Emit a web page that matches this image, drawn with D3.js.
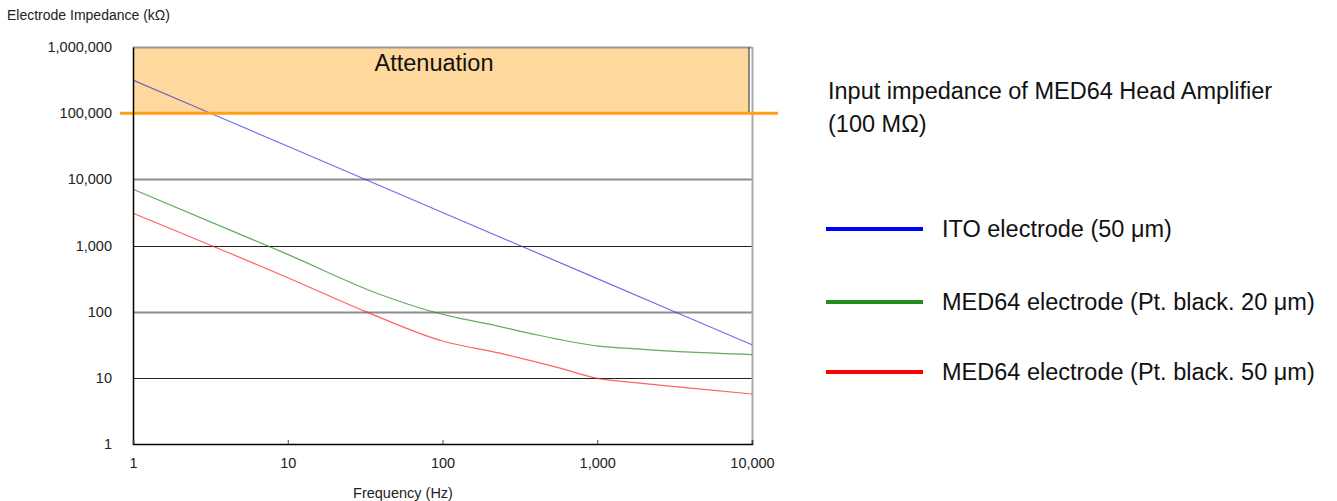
<!DOCTYPE html>
<html>
<head>
<meta charset="utf-8">
<script src="https://cdn.jsdelivr.net/npm/d3@7"></script>
<style>
  body { margin: 0; background: #fff; }
  text { font-family: "Liberation Sans", Arial, sans-serif; }
</style>
</head>
<body>
<div id="chart"></div>
<script>
// data (impedance in kOhm)
const freqTicks = [1, 10, 100, 1000, 10000];
const impTicks = [1, 10, 100, 1000, 10000, 100000, 1000000];

const itoFreq = [1, 10, 100, 1000, 10000];
const itoImp = [316000, 31600, 3160, 316, 31.6];

const pt20Freq = [1, 10, 40, 80, 130, 200, 367, 1000, 1900, 4000, 10000];
const pt20Imp = [7080, 735, 180, 105, 79, 65, 47, 30.4, 27.1, 24.4, 22.5];

const pt50Freq = [1, 10, 32, 100, 235, 575, 950, 1900, 4000, 10000];
const pt50Imp = [3076, 326, 100, 36, 23.6, 14, 10.1, 8.3, 7.0, 5.7];

const ampImp = 100000;
const seriesNames = ["ITO electrode (50 μm)", "MED64 electrode (Pt. black. 20 μm)", "MED64 electrode (Pt. black. 50 μm)"];

function drawChart() {
    let dimensions = {
        width: 1337,
        height: 501,
        margin: { top: 47, right: 585, bottom: 57, left: 133 }
    };
    dimensions.boundW = dimensions.width - dimensions.margin.left - dimensions.margin.right;
    dimensions.boundH = dimensions.height - dimensions.margin.top - dimensions.margin.bottom;

    let svg = d3.select('#chart').append('svg')
        .attr('width', dimensions.width)
        .attr('height', dimensions.height);

    let bounds = svg.append('g')
        .attr('transform', `translate(${dimensions.margin.left},${dimensions.margin.top})`);

    let xScale = d3.scaleLog()
        .domain([1, 10000])
        .range([0, dimensions.boundW]);

    let yScale = d3.scaleLog()
        .domain([1, 1000000])
        .range([dimensions.boundH, 0]);

    // attenuation zone
    bounds.append('rect')
        .attr('x', 0)
        .attr('y', 0)
        .attr('width', dimensions.boundW - 3)
        .attr('height', yScale(ampImp))
        .attr('fill', '#fed89c');
    bounds.append('line')
        .attr('x1', 0).attr('x2', dimensions.boundW)
        .attr('y1', 0.5).attr('y2', 0.5)
        .attr('stroke', '#999').attr('stroke-width', 2);
    bounds.append('line')
        .attr('x1', dimensions.boundW - 3).attr('x2', dimensions.boundW - 3)
        .attr('y1', 0).attr('y2', yScale(ampImp))
        .attr('stroke', '#666').attr('stroke-width', 1.5);

    bounds.append('text')
        .attr('x', 434 - dimensions.margin.left)
        .attr('y', 24)
        .attr('text-anchor', 'middle')
        .style('font-size', '23.5px')
        .style('fill', '#111')
        .text('Attenuation');

    // grid lines
    let grid = [10, 100, 1000, 10000];
    bounds.selectAll('.grid')
        .data(grid)
        .join('line')
        .attr('x1', 0).attr('x2', dimensions.boundW)
        .attr('y1', d => Math.round(yScale(d)) + 0.5)
        .attr('y2', d => Math.round(yScale(d)) + 0.5)
        .attr('stroke', d => (d === 100 || d === 10000) ? '#8c8c8c' : '#222')
        .attr('stroke-width', d => (d === 100 || d === 10000) ? 2 : 1);

    // right frame
    bounds.append('line')
        .attr('x1', dimensions.boundW + 0.5).attr('x2', dimensions.boundW + 0.5)
        .attr('y1', 0).attr('y2', dimensions.boundH)
        .attr('stroke', '#aaa').attr('stroke-width', 2);

    // series
    let series = [
        { f: itoFreq, z: itoImp, color: '#3333dd' },
        { f: pt20Freq, z: pt20Imp, color: '#1e8a1e' },
        { f: pt50Freq, z: pt50Imp, color: '#ff2020' }
    ];

    let lineGenerator = d3.line()
        .curve(d3.curveMonotoneX)
        .x(d => xScale(d[0]))
        .y(d => yScale(d[1]));

    series.forEach(s => {
        bounds.append('path')
            .attr('d', lineGenerator(s.f.map((f, i) => [f, s.z[i]])))
            .attr('fill', 'none')
            .attr('stroke', s.color)
            .attr('stroke-opacity', 0.7)
            .attr('stroke-width', 1.2);
    });

    // amplifier input impedance line
    bounds.append('line')
        .attr('x1', -13).attr('x2', dimensions.boundW + 26)
        .attr('y1', yScale(ampImp)).attr('y2', yScale(ampImp))
        .attr('stroke', '#ffa010')
        .attr('stroke-width', 3);

    // axes
    let yAxisGenerator = d3.axisLeft(yScale)
        .tickValues(impTicks)
        .tickSize(0)
        .tickPadding(21)
        .tickFormat(d3.format(','));

    let yAxis = bounds.append('g').call(yAxisGenerator);
    yAxis.select('.domain').attr('stroke', '#000').attr('stroke-width', 1.5);
    yAxis.selectAll('text')
        .style('font-size', '14.5px')
        .style('font-family', '"Liberation Sans", Arial, sans-serif')
        .style('fill', '#222');

    let xAxisGenerator = d3.axisBottom(xScale)
        .tickValues(freqTicks)
        .tickSize(-4)
        .tickPadding(14)
        .tickFormat(d3.format(','));

    let xAxis = bounds.append('g')
        .attr('transform', `translate(0,${dimensions.boundH})`)
        .call(xAxisGenerator);
    xAxis.select('.domain').attr('stroke', '#000').attr('stroke-width', 1.5);
    xAxis.selectAll('.tick line').attr('stroke', '#444');
    xAxis.selectAll('text')
        .style('font-size', '14.5px')
        .style('font-family', '"Liberation Sans", Arial, sans-serif')
        .style('fill', '#222');

    // axis titles
    svg.append('text')
        .attr('x', 7).attr('y', 20)
        .style('font-size', '14px')
        .style('fill', '#222')
        .text('Electrode Impedance (kΩ)');

    svg.append('text')
        .attr('x', 403)
        .attr('y', 498)
        .attr('text-anchor', 'middle')
        .style('font-size', '14.5px')
        .style('fill', '#222')
        .text('Frequency (Hz)');

    // legend
    let legend = svg.append('g');
    legend.append('text')
        .attr('x', 828).attr('y', 99)
        .style('font-size', '23.5px').style('fill', '#111')
        .text('Input impedance of MED64 Head Amplifier');
    legend.append('text')
        .attr('x', 828).attr('y', 132)
        .style('font-size', '23.5px').style('fill', '#111')
        .text('(100 MΩ)');

    let legendColors = ['#0000ff', '#228b22', '#ff0000'];
    let legendY = [229, 302, 372];
    seriesNames.forEach((name, i) => {
        legend.append('line')
            .attr('x1', 826).attr('x2', 923)
            .attr('y1', legendY[i]).attr('y2', legendY[i])
            .attr('stroke', legendColors[i])
            .attr('stroke-width', 4);
        legend.append('text')
            .attr('x', 942).attr('y', legendY[i] + 8)
            .style('font-size', '23.5px').style('fill', '#111')
            .text(name);
    });
}

drawChart();
</script>
</body>
</html>
